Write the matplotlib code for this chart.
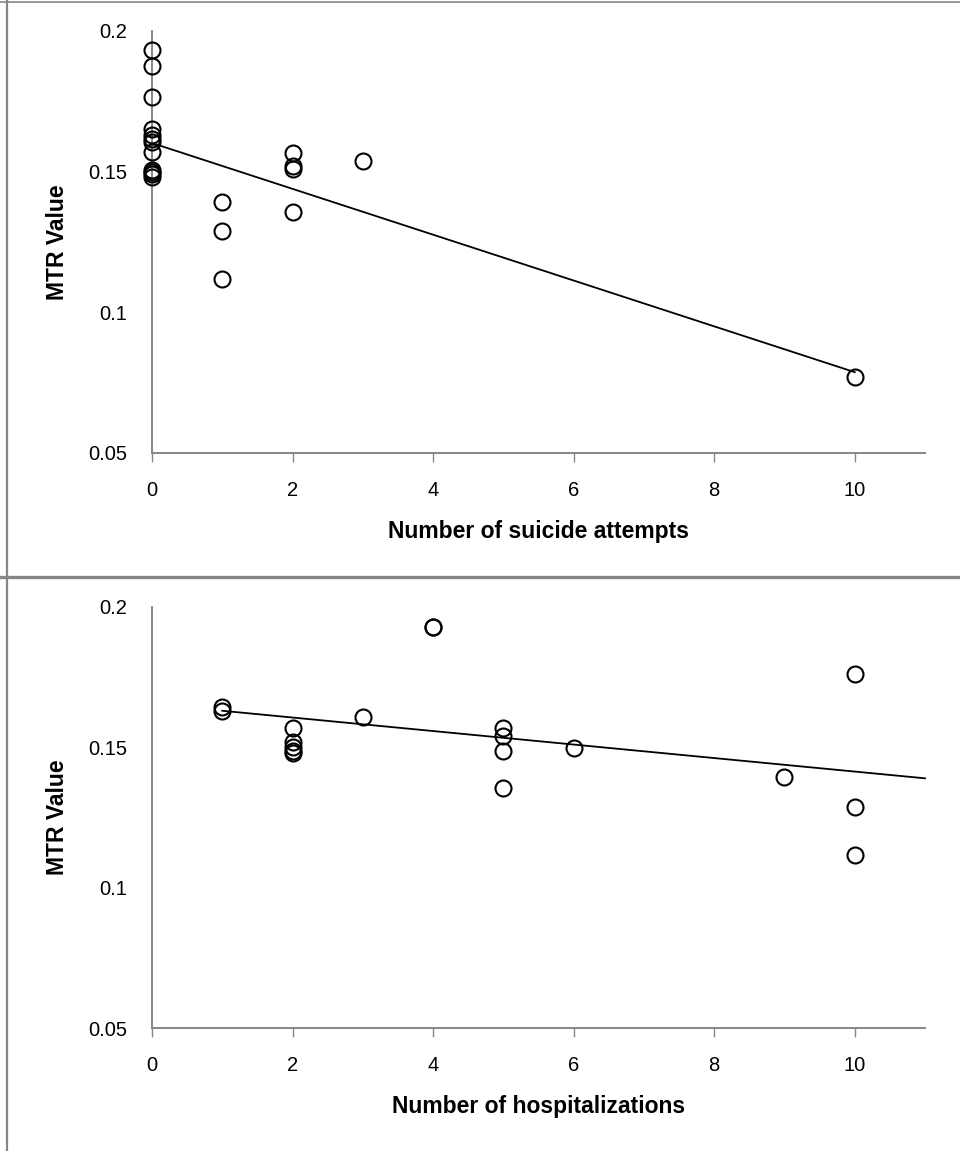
import matplotlib.pyplot as plt
import numpy as np
from matplotlib.lines import Line2D

plt.rcParams['font.family'] = ['Liberation Sans', 'DejaVu Sans']

# top panel: number of suicide attempts vs MTR value
attempts = [0, 0, 0, 0, 0, 0, 0, 0, 0, 0, 0, 0,
            1, 1, 1,
            2, 2, 2, 2,
            3,
            10]
mtr_attempts = [0.1931, 0.1875, 0.1765, 0.1649, 0.1629, 0.1614, 0.1603, 0.157, 0.1505, 0.1497, 0.1489, 0.148,
                0.1392, 0.1288, 0.1116,
                0.1567, 0.152, 0.1508, 0.1356,
                0.1538,
                0.0768]

# bottom panel: number of hospitalizations vs MTR value
# (two subjects sit on the same spot at x=4)
hospitalizations = [1, 1,
                    2, 2, 2, 2, 2,
                    3,
                    4, 4,
                    5, 5, 5, 5,
                    6,
                    9,
                    10, 10, 10]
mtr_hosp = [0.1644, 0.163,
            0.1569, 0.152, 0.1502, 0.1488, 0.1478,
            0.1609,
            0.1927, 0.1927,
            0.1569, 0.154, 0.1488, 0.1354,
            0.1496,
            0.1393,
            0.1761, 0.1288, 0.1117]

y_ticks = [0.05, 0.1, 0.15, 0.2]
y_tick_labels = ['0.05', '0.1', '0.15', '0.2']
x_ticks = [0, 2, 4, 6, 8, 10]

fig = plt.figure(figsize=(9.6, 11.51), dpi=100)

grey = '#868686'


def panel(rect, x, y, xlabel, fit_range):
    ax = fig.add_axes(rect)
    ax.plot(x, y, linestyle='none', marker='o', markersize=11.5,
            markerfacecolor='none', markeredgecolor='black', markeredgewidth=1.5,
            clip_on=False, zorder=3)
    coef = np.polyfit(x, y, 1)
    xs = np.array(fit_range)
    ax.plot(xs, np.polyval(coef, xs), color='black', linewidth=1.3, clip_on=False)

    ax.set_xlim(0, 11)
    ax.set_ylim(0.05, 0.2)
    ax.set_xticks(x_ticks)
    ax.set_yticks(y_ticks, y_tick_labels)
    ax.tick_params(axis='x', length=6.5, width=1, color=grey, pad=14, labelsize=14.5)
    ax.tick_params(axis='y', length=0, pad=18, labelsize=14.5)

    ax.spines['right'].set_visible(False)
    ax.spines['top'].set_visible(False)
    ax.spines['left'].set_color(grey)
    ax.spines['bottom'].set_color(grey)
    ax.spines['left'].set_linewidth(1.4)
    ax.spines['bottom'].set_linewidth(1.4)

    ax.set_xlabel(xlabel, fontsize=16.5, fontweight='bold', labelpad=14)
    ax.set_ylabel('MTR Value', fontsize=16.5, fontweight='bold', labelpad=14)
    return ax


panel([152 / 960, 1 - 452.7 / 1151, 773 / 960, 422 / 1151],
      attempts, mtr_attempts, 'Number of suicide attempts', [0, 10])
panel([152 / 960, 1 - 1028 / 1151, 773 / 960, 421.3 / 1151],
      hospitalizations, mtr_hosp, 'Number of hospitalizations', [1, 11])

# outer frame lines
fig.add_artist(Line2D([0, 1], [1 - 2.3 / 1151] * 2, color=grey, linewidth=1.2, transform=fig.transFigure))
fig.add_artist(Line2D([0, 1], [1 - 576.7 / 1151] * 2, color=grey, linewidth=2.4, transform=fig.transFigure))
fig.add_artist(Line2D([6.5 / 960] * 2, [0, 1], color=grey, linewidth=1.6, transform=fig.transFigure))

fig.savefig('out.png', dpi=100, facecolor='white')
